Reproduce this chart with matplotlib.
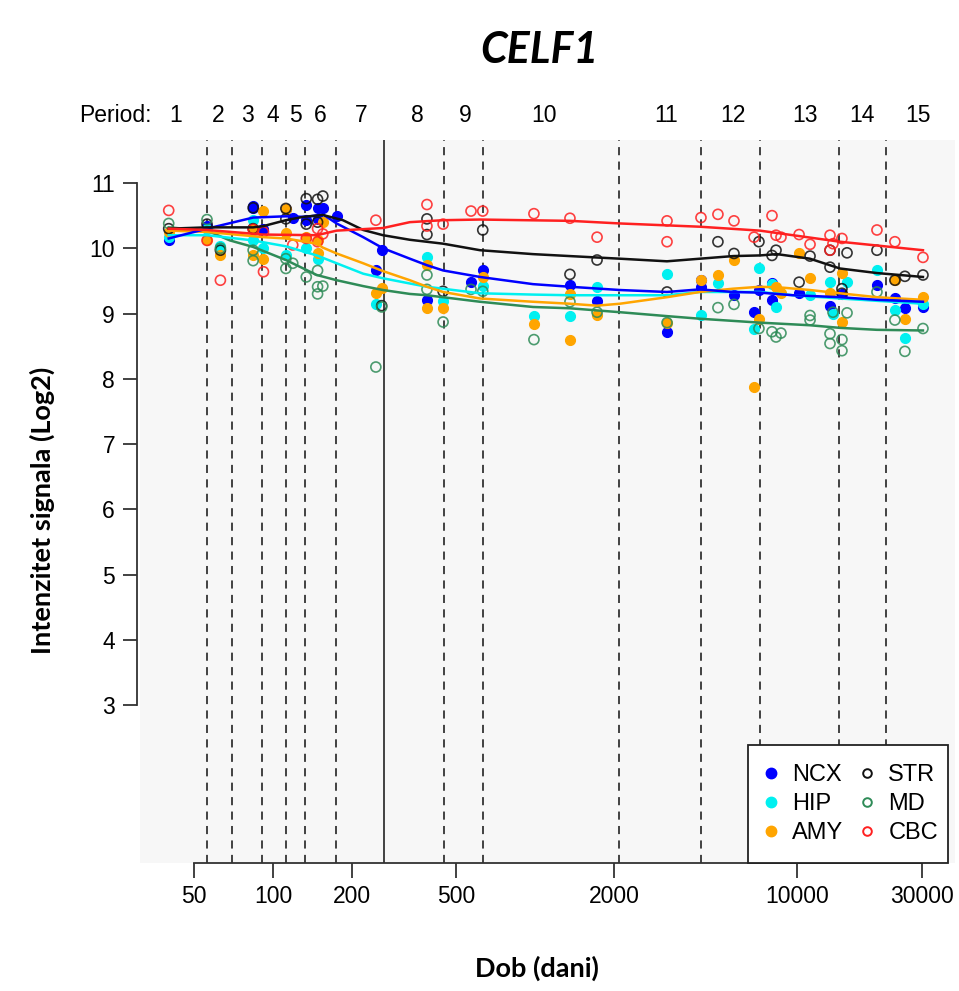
import numpy as np
import matplotlib
matplotlib.use("Agg")
import matplotlib.pyplot as plt
from matplotlib.lines import Line2D
from matplotlib.patches import Rectangle

# ---------------- data ----------------
title = "CELF1"
x_label = "Dob (dani)"
y_label = "Intenzitet signala (Log2)"
x_ticks = [50, 100, 200, 500, 2000, 10000, 30000]
y_ticks = [3, 4, 5, 6, 7, 8, 9, 10, 11]

# period boundaries (days), solid line = birth
period_bounds = [56, 70, 91, 112, 133, 174, 448, 631, 2100, 4300, 7230, 14450, 21860]
birth_day = 266
period_names = ["1", "2", "3", "4", "5", "6", "7", "8", "9", "10", "11", "12", "13", "14", "15"]
period_label_days = [42.6, 62, 79.7, 100, 122, 152, 217, 355, 541, 1081, 3162, 5700, 10740, 17720, 28970]

regions = ["NCX", "HIP", "AMY", "STR", "MD", "CBC"]
colors = {"NCX": "#0000ff", "HIP": "#00f0f0", "AMY": "#ffa500",
          "STR": "#111111", "MD": "#2e8b57", "CBC": "#ff2020"}
filled = {"NCX": True, "HIP": True, "AMY": True, "STR": False, "MD": False, "CBC": False}

# sample points (age in days, log2 signal)
ncx_age = [40, 56, 84, 84, 92, 112, 119, 134, 134, 148, 148, 155, 175, 247, 260, 387, 570, 632,
           1360, 1726, 3192, 4302, 4302, 5750, 6860, 7160, 8030, 8030, 10190, 13370, 14850,
           20200, 23650, 25820, 30270]
ncx_val = [10.13, 10.34, 10.64, 10.61, 10.30, 10.60, 10.47, 10.66, 10.43, 10.61, 10.45, 10.61,
           10.50, 9.67, 9.97, 9.21, 9.48, 9.66, 9.44, 9.19, 8.72, 9.51, 9.41, 9.28, 9.02, 9.36,
           9.47, 9.20, 9.31, 9.12, 9.30, 9.43, 9.23, 9.08, 9.10]

hip_age = [40, 56, 63, 84, 84, 92, 112, 134, 148, 247, 387, 446, 632, 991, 1360, 1726, 3192,
           4302, 4993, 6860, 7160, 8030, 8320, 11220, 13370, 13720, 15530, 20200, 23650,
           25820, 30270]
hip_val = [10.18, 10.30, 10.03, 10.43, 10.13, 10.00, 9.89, 10.00, 9.84, 9.15, 9.87, 9.19, 9.42,
           8.96, 8.96, 9.41, 9.60, 8.97, 9.47, 8.77, 9.70, 9.45, 9.10, 9.28, 9.48, 9.00, 9.48,
           9.66, 9.05, 8.63, 9.15]

amy_age = [40, 56, 63, 84, 84, 92, 92, 112, 112, 134, 148, 148, 155, 247, 260, 387, 387, 446,
           632, 991, 1360, 1360, 1726, 3192, 4302, 4993, 5750, 6860, 7160, 8320, 8690, 10190,
           11220, 13370, 14850, 14850, 23650, 25820, 30270]
amy_val = [10.25, 10.12, 9.89, 10.30, 9.89, 10.57, 9.83, 10.60, 10.23, 10.17, 10.12, 9.92,
           10.41, 9.31, 9.39, 9.74, 9.08, 9.09, 9.56, 8.84, 9.30, 8.59, 8.97, 8.86, 9.51, 9.59,
           9.82, 7.87, 8.92, 9.41, 9.31, 9.93, 9.55, 9.31, 9.62, 8.87, 9.51, 8.92, 9.25]

str_age = [40, 56, 63, 84, 84, 112, 112, 134, 134, 148, 148, 155, 260, 387, 387, 446, 632,
           1360, 1726, 3192, 4993, 5750, 7160, 8030, 8320, 10190, 11220, 13370, 13370, 14850,
           14850, 15530, 20200, 23650, 25820, 30270]
str_val = [10.30, 10.37, 9.97, 10.62, 10.30, 10.61, 10.45, 10.76, 10.37, 10.75, 10.40, 10.80,
           9.12, 10.45, 10.21, 9.34, 10.28, 9.60, 9.82, 9.33, 10.10, 9.92, 10.10, 9.89, 9.97,
           9.48, 9.88, 9.97, 9.71, 9.38, 9.31, 9.93, 9.97, 9.51, 9.57, 9.59]

md_age = [40, 56, 63, 84, 84, 112, 112, 119, 134, 148, 148, 148, 155, 247, 260, 387, 387, 446,
          570, 632, 991, 1360, 1726, 3192, 4993, 5750, 7160, 8030, 8320, 8690, 11220, 11220,
          13370, 13370, 13720, 14850, 14850, 15530, 20200, 23650, 25820, 30270]
md_val = [10.38, 10.44, 10.00, 9.97, 9.81, 9.84, 9.69, 9.77, 9.56, 9.66, 9.41, 9.30, 9.42, 8.18,
          9.10, 9.59, 9.37, 8.87, 9.37, 9.34, 8.60, 9.18, 9.02, 8.86, 9.09, 9.14, 8.77, 8.72,
          8.64, 8.70, 8.97, 8.90, 8.69, 8.54, 9.02, 8.60, 8.43, 9.01, 9.33, 8.90, 8.42, 8.77]

cbc_age = [40, 56, 63, 84, 92, 92, 119, 134, 148, 148, 155, 247, 387, 387, 446, 570, 632, 991,
           1360, 1726, 3192, 3192, 4302, 4993, 5750, 6860, 8030, 8320, 8690, 10190, 11220,
           13370, 13370, 13720, 14850, 20200, 23650, 30270]
cbc_val = [10.58, 10.12, 9.51, 10.29, 10.25, 9.64, 10.05, 10.15, 10.30, 10.10, 10.22, 10.43,
           10.67, 10.34, 10.37, 10.57, 10.57, 10.53, 10.46, 10.17, 10.42, 10.10, 10.47, 10.52,
           10.42, 10.17, 10.50, 10.20, 10.17, 10.21, 10.06, 10.20, 9.97, 10.07, 10.15, 10.28,
           10.10, 9.86]

# smoothed trend curves (age in days, value)
ncx_fit_age = [40, 56, 84, 112, 134, 155, 175, 221, 263, 333, 387, 446, 617, 983, 1360, 2110,
               3190, 4263, 5697, 7224, 9654, 14590, 20200, 30260]
ncx_fit_val = [10.15, 10.30, 10.47, 10.49, 10.48, 10.52, 10.38, 10.17, 10.00, 9.84, 9.74, 9.66,
               9.56, 9.45, 9.41, 9.36, 9.33, 9.37, 9.33, 9.32, 9.28, 9.25, 9.21, 9.18]
hip_fit_age = [40, 56, 84, 112, 147, 175, 221, 263, 333, 387, 617, 983, 1360, 2110, 3190, 4263,
               7224, 9654, 14590, 30260]
hip_fit_val = [10.20, 10.20, 10.12, 10.03, 9.89, 9.77, 9.61, 9.54, 9.46, 9.41, 9.31, 9.29, 9.28,
               9.28, 9.28, 9.33, 9.33, 9.28, 9.23, 9.15]
amy_fit_age = [40, 56, 92, 112, 147, 155, 175, 221, 263, 333, 387, 446, 617, 983, 1360, 1724,
               2110, 3190, 4263, 5697, 7224, 8612, 11210, 14590, 20200, 30260]
amy_fit_val = [10.27, 10.25, 10.17, 10.15, 10.07, 10.01, 9.92, 9.77, 9.65, 9.51, 9.41, 9.33,
               9.23, 9.18, 9.15, 9.12, 9.15, 9.25, 9.33, 9.38, 9.41, 9.40, 9.36, 9.31, 9.25, 9.21]
str_fit_age = [40, 56, 84, 92, 112, 130, 155, 185, 221, 263, 333, 446, 617, 983, 1360, 2110,
               3190, 4263, 5697, 7224, 8387, 11210, 14590, 20200, 30260]
str_fit_val = [10.30, 10.32, 10.32, 10.34, 10.43, 10.48, 10.51, 10.43, 10.28, 10.20, 10.13,
               10.07, 9.97, 9.91, 9.88, 9.84, 9.80, 9.84, 9.88, 9.89, 9.91, 9.84, 9.69, 9.62, 9.56]
md_fit_age = [40, 56, 68.5, 84, 112, 147, 175, 221, 263, 333, 387, 617, 983, 1360, 2110, 3190,
              4263, 7224, 11210, 14590, 20200, 30260]
md_fit_val = [10.32, 10.27, 10.12, 10.02, 9.82, 9.59, 9.51, 9.42, 9.36, 9.30, 9.28, 9.18, 9.10,
              9.08, 9.02, 8.96, 8.92, 8.86, 8.82, 8.78, 8.75, 8.74]
cbc_fit_age = [40, 56, 92, 147, 175, 263, 333, 446, 617, 1360, 2110, 4263, 7224, 14590, 30260]
cbc_fit_val = [10.30, 10.28, 10.21, 10.20, 10.27, 10.31, 10.40, 10.43, 10.44, 10.42, 10.38,
               10.33, 10.27, 10.10, 9.97]

points = {"NCX": (ncx_age, ncx_val), "HIP": (hip_age, hip_val), "AMY": (amy_age, amy_val),
          "STR": (str_age, str_val), "MD": (md_age, md_val), "CBC": (cbc_age, cbc_val)}
fits = {"NCX": (ncx_fit_age, ncx_fit_val), "HIP": (hip_fit_age, hip_fit_val),
        "AMY": (amy_fit_age, amy_fit_val), "STR": (str_fit_age, str_fit_val),
        "MD": (md_fit_age, md_fit_val), "CBC": (cbc_fit_age, cbc_fit_val)}

# ---------------- figure ----------------
W, H = 959, 991
fig = plt.figure(figsize=(W / 100, H / 100), dpi=100)
fig.patch.set_facecolor("white")

L, R, T, B = 140, 955, 140, 863
ax = fig.add_axes([L / W, 1 - B / H, (R - L) / W, (B - T) / H])
ax.set_facecolor("#f7f7f7")
ax.set_xscale("log")
ax.set_xlim(31.08, 40110)
ax.set_ylim(0.579, 11.659)

tick_font = "Liberation Sans"
label_font = "Lato"
tick_size = 16.5

# period lines
for d in period_bounds:
    ax.axvline(d, color="#333333", lw=1.3, ls=(0, (4.5, 3.5)), zorder=1)
ax.axvline(birth_day, color="#333333", lw=1.3, zorder=1)

# points
for r in regions:
    a, v = points[r]
    if filled[r]:
        ax.scatter(a, v, s=52, facecolor=colors[r], edgecolor=colors[r], lw=0.8, zorder=3)
    else:
        ax.scatter(a, v, s=52, facecolor="none", edgecolor=colors[r], lw=1.2, zorder=3, alpha=0.85)

# trend lines
for r in ["MD", "HIP", "AMY", "NCX", "STR", "CBC"]:
    a, v = fits[r]
    ax.plot(a, v, color=colors[r], lw=1.8, zorder=4)

# axes styling
for s in ["top", "right"]:
    ax.spines[s].set_visible(False)
ax.spines["left"].set_bounds(3, 11)
ax.spines["left"].set_position(("outward", 2))
ax.spines["bottom"].set_bounds(50, 30000)
ax.spines["left"].set_color("#333333")
ax.spines["bottom"].set_color("#333333")
ax.spines["left"].set_linewidth(1.3)
ax.spines["bottom"].set_linewidth(1.3)

ax.set_xticks(x_ticks)
ax.set_xticklabels([str(t) for t in x_ticks], fontfamily=tick_font, fontsize=tick_size)
ax.xaxis.set_minor_locator(matplotlib.ticker.NullLocator())
ax.set_yticks(y_ticks)
ax.set_yticklabels([str(t) for t in y_ticks], fontfamily=tick_font, fontsize=tick_size)
ax.tick_params(axis="x", length=11, width=1.3, color="#333333", pad=4.5)
ax.tick_params(axis="y", length=10, width=1.3, color="#333333", pad=6)

# period labels above the plot
for name, d in zip(period_names, period_label_days):
    xf = ax.transData.transform((d, 1))[0] / W
    fig.text(xf, 1 - 115 / H, name, ha="center", va="center", fontsize=tick_size, family=tick_font)
fig.text(79 / W, 1 - 115 / H, "Period:", ha="left", va="center", fontsize=tick_size, family=tick_font)

# title & labels
fig.text(539 / W, 1 - 50 / H, title, ha="center", va="center", fontsize=31,
         fontweight="bold", fontstyle="italic", family=label_font)
fig.text(537 / W, 1 - 968 / H, x_label, ha="center", va="center", fontsize=19.5,
         fontweight="bold", family=label_font)
fig.text(42 / W, 1 - 510 / H, y_label, ha="center", va="center", fontsize=19.5,
         fontweight="bold", family=label_font, rotation=90)

# legend: frame drawn separately so the padding matches
box_x0 = (748 - L) / (R - L)
box_x1 = (948 - L) / (R - L)
box_y1 = (B - 745) / (B - T)
ax.add_patch(Rectangle((box_x0, 0), box_x1 - box_x0, box_y1, transform=ax.transAxes,
                       facecolor="white", edgecolor="#222222", lw=1.3, zorder=9, clip_on=False))
handles = []
for r in regions:
    if filled[r]:
        h = Line2D([], [], ls="none", marker="o", markersize=7.5, markerfacecolor=colors[r],
                   markeredgecolor=colors[r], label=r)
    else:
        h = Line2D([], [], ls="none", marker="o", markersize=6.2, markerfacecolor="none",
                   markeredgecolor=colors[r], markeredgewidth=1.4, label=r)
    handles.append(h)
leg = ax.legend(handles=handles, ncol=2, loc="center",
                bbox_to_anchor=((box_x0 + box_x1) / 2, box_y1 / 2),
                frameon=False, prop={"family": tick_font, "size": 17}, handletextpad=0.35,
                columnspacing=0.45, labelspacing=0.3, handlelength=1.1, borderpad=0,
                borderaxespad=0)
leg.set_zorder(10)

fig.savefig("out.png", dpi=100, facecolor="white")
